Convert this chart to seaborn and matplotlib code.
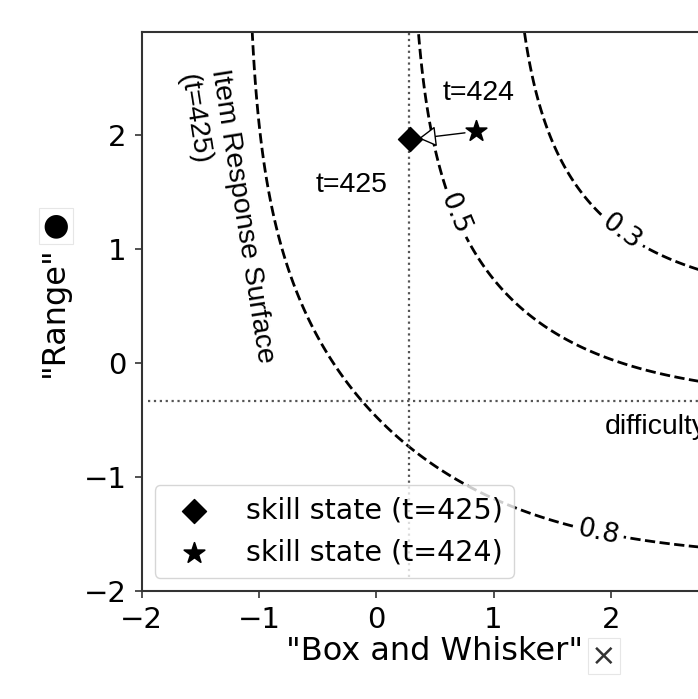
import numpy as np
import matplotlib
matplotlib.use("Agg")
import matplotlib.pyplot as plt
import seaborn as sns

# Item parameters (two-dimensional logistic item)
difficulty = [0.28, -0.33]          # per-dimension difficulty
discrimination = [1.0, 1.0]         # per-dimension slope
contour_levels = [0.3, 0.5, 0.8]
label_spots = [(2.1, 1.17), (0.69, 1.32), (1.89, -1.49)]

# Skill states of the learner
skill_425 = [0.29, 1.96]
skill_424 = [0.85, 2.03]
state_labels = ["skill state (t=425)", "skill state (t=424)"]

x_ticks = [-2, -1, 0, 1, 2]
y_ticks = [-2, -1, 0, 1, 2]

sns.set_theme(style="ticks")
plt.rcParams["font.family"] = ["DejaVu Sans"]
plt.rcParams["text.color"] = "black"
plt.rcParams["axes.labelcolor"] = "black"
plt.rcParams["axes.edgecolor"] = "#333333"
plt.rcParams["xtick.color"] = "#333333"
plt.rcParams["ytick.color"] = "#333333"
plt.rcParams["xtick.labelcolor"] = "black"
plt.rcParams["ytick.labelcolor"] = "black"
plt.rcParams["axes.linewidth"] = 1.5

fig = plt.figure(figsize=(6.98, 6.99), dpi=100)
ax = fig.add_axes([0.2030, 0.1545, 0.8403, 0.7993])
ax.set_xlim(-2, 3)
ax.set_ylim(-2, 2.9)

# Response surface over the skill plane
gx = np.linspace(-2, 3, 300)
gy = np.linspace(-2, 2.9, 300)
X, Y = np.meshgrid(gx, gy)
sig = lambda z: 1.0 / (1.0 + np.exp(-z))
P = 1.0 - sig(discrimination[0] * (X - difficulty[0])) * sig(discrimination[1] * (Y - difficulty[1]))
cs = ax.contour(X, Y, P, levels=contour_levels, colors="black",
                linestyles="--", linewidths=2)
ax.clabel(cs, fmt="%.1f", fontsize=19, inline=True, manual=label_spots)

# Difficulty guides
ax.vlines(difficulty[0], -1.88, 2.9, colors="#555555", linestyles=":", linewidth=1.6)
ax.hlines(difficulty[1], -1.945, 3, colors="#555555", linestyles=":", linewidth=1.6)

# Skill states
sns.scatterplot(x=[skill_425[0]], y=[skill_425[1]], marker="D", s=150,
                color="black", edgecolor="black", label=state_labels[0], ax=ax, zorder=5)
sns.scatterplot(x=[skill_424[0]], y=[skill_424[1]], marker="*", s=240,
                color="black", edgecolor="black", label=state_labels[1], ax=ax, zorder=5)

ax.annotate("", xy=(skill_425[0], skill_425[1]), xytext=(skill_424[0], skill_424[1]),
            arrowprops=dict(arrowstyle="-|>,head_length=0.55,head_width=0.32",
                            fc="white", ec="black", lw=1.0, mutation_scale=20,
                            shrinkA=8, shrinkB=6), zorder=4)

arial = ["Liberation Sans", "DejaVu Sans"]
ax.text(0.87, 2.37, "t=424", fontsize=20.5, family=arial, ha="center", va="center")
ax.text(-0.21, 1.56, "t=425", fontsize=20.5, family=arial, ha="center", va="center")
ax.text(1.95, -0.56, "difficulty", fontsize=20.5, family=arial, ha="left", va="center")
ax.text(-1.28, 1.27, "Item Response Surface\n(t=425)", fontsize=20.5, family=arial,
        ha="center", va="center", rotation=-81, rotation_mode="anchor",
        multialignment="left", linespacing=1.3)

ax.set_xticks(x_ticks)
ax.set_yticks(y_ticks)
ax.tick_params(labelsize=21, length=5, width=1.2, pad=6)
ax.set_xlabel('"Box and Whisker"', fontsize=23, labelpad=1)
ax.set_ylabel('"Range"', fontsize=23, labelpad=10)

leg = ax.legend(loc="lower left", fontsize=20.5, frameon=True, borderaxespad=0.45,
                handletextpad=0.8)
leg.get_frame().set_edgecolor("#cccccc")

# Small glyph badges next to the axis titles
badge = dict(boxstyle="square,pad=0.12", fc="white", ec="#e6e6e6", lw=0.8)
fig.text(56 / 698, 1 - 226 / 699, "\u25cf", fontsize=22, ha="center", va="center", bbox=badge)
fig.text(604 / 698, 1 - 656 / 699, "\u00d7", fontsize=22, ha="center", va="center",
         color="#333333", bbox=badge)

fig.savefig("out.png", dpi=100)
